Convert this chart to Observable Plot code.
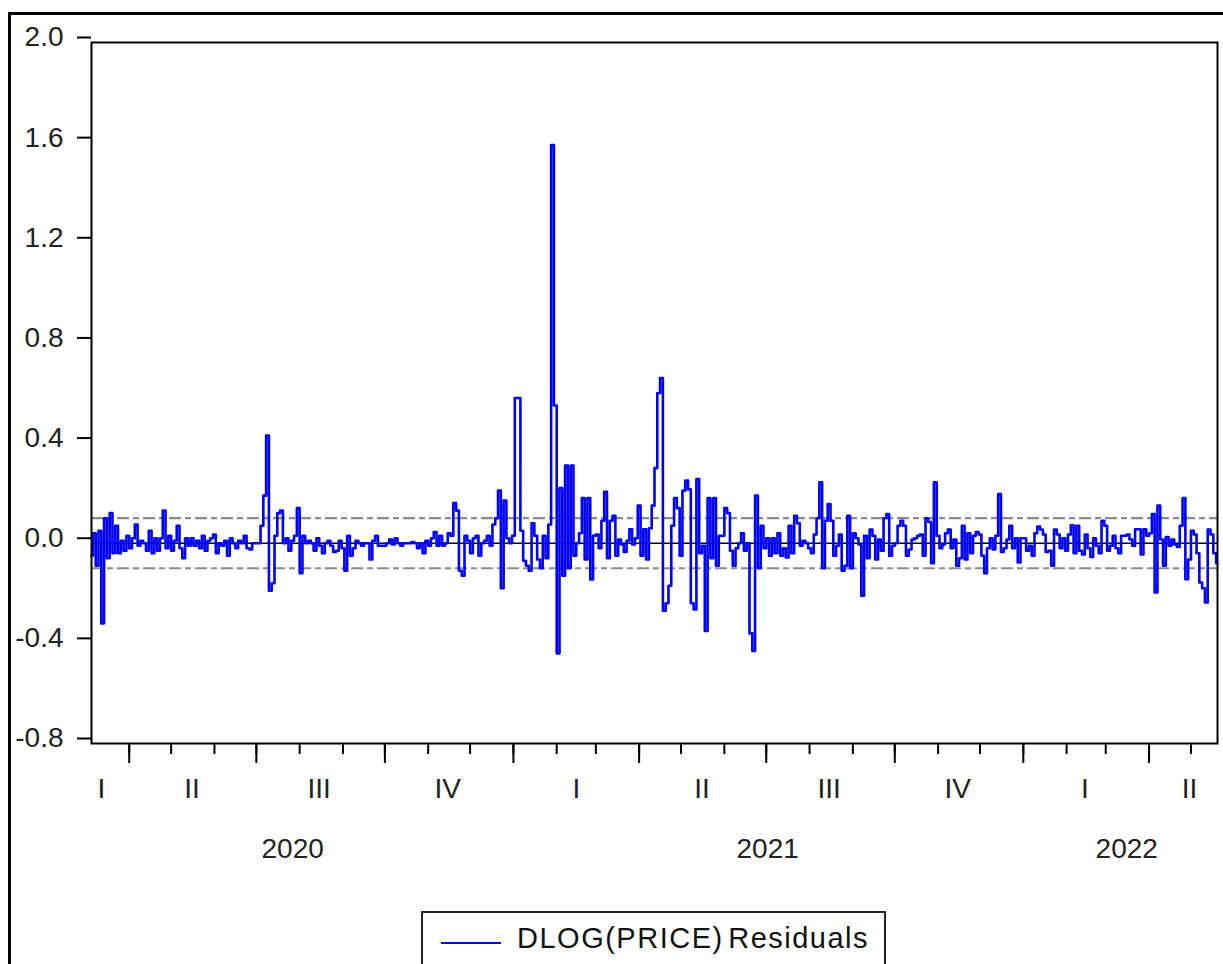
<!DOCTYPE html>
<html>
<head>
<meta charset="utf-8">
<script src="https://cdn.jsdelivr.net/npm/d3@7"></script>
<script src="https://cdn.jsdelivr.net/npm/@observablehq/plot@0.6"></script>
<style>
  html, body { margin: 0; padding: 0; background: #fff; }
  body { width: 1223px; height: 964px; overflow: hidden; position: relative; font-family: "Liberation Sans", Arial, sans-serif; }
  #frame { position: absolute; left: 8px; top: 12px; width: 1240px; height: 1000px; border: 3px solid #000; box-sizing: border-box; }
  #chart { position: absolute; left: 0; top: 0; }
  #legend { position: absolute; left: 421px; top: 911px; width: 465px; height: 80px; border: 2px solid #222; box-sizing: border-box; background: #fff; }
  #legend .sw { position: absolute; left: 18px; top: 29px; width: 60px; height: 2px; background: #0000ff; }
  #legend .lbl { position: absolute; left: 94px; top: 9px; font-size: 29px; color: #111; white-space: nowrap; letter-spacing: 1.5px; word-spacing: -5px; }
</style>
</head>
<body>
<div id="frame"></div>
<div id="chart"></div>
<div id="legend"><div class="sw"></div><div class="lbl">DLOG(PRICE) Residuals</div></div>
<script>
// ---- data ----
const startDate = "2020-03-05";
const stepDays = 2;
const seriesName = "DLOG(PRICE) Residuals";
const residuals = [
  // Mar 2020 - Jul 2020
  -0.05,0.04,-0.09,0.05,-0.32,0.10,-0.06,0.12,-0.04,0.07,
  -0.04,0.01,-0.03,0.03,-0.02,0.02,0.075,-0.01,0.01,0.0,
  -0.03,0.05,-0.04,0.02,-0.03,0.02,0.13,-0.02,0.03,-0.03,
  0.01,0.07,-0.02,-0.06,0.02,-0.01,0.02,-0.01,0.01,-0.02,
  0.03,-0.03,0.01,0.02,0.035,-0.04,0.0,-0.01,0.01,-0.05,
  0.02,0.0,-0.02,0.01,0.0,0.03,-0.02,-0.025,0.0,0.0,
  0.0,0.07,0.19,0.43,-0.19,-0.16,0.03,0.12,0.13,0.0,
  0.02,-0.03,0.01,0.03,0.14,-0.12,0.03,0.0,0.01,0.0,
  -0.03,0.02,
  // Jul 2020 - Jan 2021
  -0.01,-0.04,0.0,0.01,-0.01,-0.035,-0.03,0.01,-0.02,-0.11,
  0.03,-0.05,-0.02,0.01,0.0,-0.01,0.0,0.0,-0.065,0.01,
  0.03,-0.01,-0.01,-0.01,0.0,0.015,-0.005,0.02,0.0,-0.01,
  0.0,0.0,0.0,0.005,0.0,-0.02,0.0,-0.04,0.01,-0.01,
  0.02,0.045,-0.01,0.03,-0.01,0.0,0.04,0.03,0.16,0.13,
  -0.11,-0.13,0.03,0.01,-0.04,0.02,0.03,-0.05,0.0,0.01,
  0.03,-0.01,0.075,0.1,0.21,-0.18,0.17,0.02,0.0,0.03,
  0.58,0.58,0.05,-0.07,-0.09,-0.11,0.08,0.03,-0.065,-0.1,
  // Jan 2021 - Jul 2021
  0.03,-0.06,0.075,1.59,0.55,-0.44,0.22,-0.13,0.31,-0.1,
  0.31,-0.05,0.0,0.04,0.18,-0.065,0.18,-0.145,0.03,0.035,
  -0.02,0.09,0.205,-0.06,0.09,0.11,-0.05,0.015,-0.005,-0.035,
  0.01,0.056,-0.005,0.02,0.15,-0.05,0.056,-0.065,0.06,0.15,
  0.3,0.6,0.66,-0.27,-0.24,-0.17,0.07,0.18,0.14,-0.05,
  0.21,0.25,0.215,-0.24,-0.265,0.256,-0.04,-0.01,-0.35,0.18,
  -0.06,0.18,-0.09,0.03,0.03,0.14,0.12,-0.03,-0.09,-0.02,
  0.0,0.04,-0.03,0.0,-0.36,-0.43,0.19,-0.1,0.07,-0.02,
  0.02,-0.05,
  // Jul 2021 - Dec 2021
  0.02,-0.04,0.04,-0.05,-0.02,-0.057,0.07,-0.04,0.11,0.08,
  -0.01,0.01,0.0,-0.02,-0.04,0.035,0.1,0.243,-0.1,0.09,
  0.156,0.09,-0.05,-0.01,0.035,-0.11,-0.09,0.11,-0.1,0.04,
  0.02,-0.005,-0.21,0.03,-0.06,0.055,0.03,-0.065,0.015,-0.03,
  0.1,0.116,-0.05,-0.01,0.0,0.07,0.09,0.07,-0.05,-0.025,
  0.015,0.02,0.03,0.035,-0.05,0.1,0.085,-0.08,0.243,0.03,
  -0.02,-0.005,0.04,0.055,-0.02,0.015,-0.09,-0.06,0.07,-0.065,
  0.04,-0.04,0.03,0.045,0.035,-0.05,-0.12,-0.02,0.02,-0.025,
  0.03,0.196,
  // Dec 2021 - May 2022
  -0.035,-0.02,0.015,0.07,-0.02,0.02,-0.077,0.02,0.02,-0.03,
  -0.01,-0.05,0.04,0.067,0.055,0.035,-0.035,-0.03,-0.09,0.055,
  0.035,-0.02,0.02,-0.03,0.035,0.072,-0.04,0.07,-0.03,-0.045,
  0.035,-0.02,-0.055,0.02,-0.01,-0.04,0.09,0.07,-0.03,-0.01,
  0.03,-0.02,-0.04,0.03,0.03,0.035,0.015,-0.01,0.056,0.056,
  -0.045,0.056,0.03,0.04,0.116,-0.197,0.15,0.015,-0.09,0.025,
  -0.01,0.015,-0.005,-0.015,0.07,0.18,-0.144,-0.065,0.05,0.035,
  -0.04,-0.157,-0.18,-0.237,0.055,0.035,-0.04,-0.08
];
const yTicks = [-0.8, -0.4, 0.0, 0.4, 0.8, 1.2, 1.6, 2.0];
const yDomain = [-0.8, 2.0];
const bandLevels = [-0.1, 0.1];
const quarterStarts = ["2020-04-01","2020-07-01","2020-10-01","2021-01-01","2021-04-01","2021-07-01","2021-10-01","2022-01-01","2022-04-01"];
const quarterLabels = ["I","II","III","IV","I","II","III","IV","I","II"];
const quarterLabelDates = ["2020-03-12","2020-05-16","2020-08-15","2020-11-15","2021-02-15","2021-05-16","2021-08-15","2021-11-15","2022-02-14","2022-04-30"];
const yearLabels = ["2020","2021","2022"];
const yearLabelDates = ["2020-07-27","2021-07-02","2022-03-16"];

// ---- build ----
const parse = d3.utcParse("%Y-%m-%d");
const t0 = parse(startDate);
const data = residuals.map((v, i) => ({date: d3.utcDay.offset(t0, i * stepDays), value: v}));
const xDomain = [t0, d3.utcDay.offset(t0, (residuals.length - 1) * stepDays)];
const monthTicks = d3.utcMonth.range(parse("2020-04-01"), d3.utcDay.offset(xDomain[1], 1));
const qTicks = quarterStarts.map(parse);
const qLab = quarterLabels.map((t, i) => ({date: parse(quarterLabelDates[i]), text: t}));
const yLab = yearLabels.map((t, i) => ({date: parse(yearLabelDates[i]), text: t}));

const H = 905;
const chart = Plot.plot({
  width: 1223,
  height: H,
  marginLeft: 91,
  marginRight: 6,
  marginTop: 42,
  marginBottom: H - 743,
  x: {type: "utc", domain: xDomain, label: null},
  y: {domain: yDomain, label: null},
  style: {fontFamily: "'Liberation Sans', Arial, sans-serif", fontSize: "28px", color: "#222", background: "transparent", overflow: "visible"},
  marks: [
    Plot.ruleY(bandLevels, {stroke: "#8a8a8a", strokeWidth: 2.2, strokeDasharray: "12,4,6,4"}),
    Plot.ruleY([0], {stroke: "#000", strokeWidth: 1.5}),
    Plot.line(data, {x: "date", y: "value", stroke: "#0000ff", strokeWidth: 2.6, curve: "step"}),
    Plot.frame({stroke: "#000", strokeWidth: 2}),
    Plot.axisY({ticks: yTicks, label: null, tickSize: 14, tickPadding: 14, tickFormat: d => d.toFixed(1), stroke: "#000", strokeWidth: 2, fontSize: 28, dy: -5, fill: "#222"}),
    Plot.axisX({ticks: monthTicks, label: null, tickSize: 11, tickFormat: () => "", stroke: "#000", strokeWidth: 2}),
    Plot.axisX({ticks: qTicks, label: null, tickSize: 20, tickFormat: () => "", stroke: "#000", strokeWidth: 2}),
    Plot.text(qLab, {x: "date", text: "text", frameAnchor: "bottom", dy: 46, lineAnchor: "middle", fontSize: 28, fill: "#222"}),
    Plot.text(yLab, {x: "date", text: "text", frameAnchor: "bottom", dy: 106, lineAnchor: "middle", fontSize: 28, fill: "#222"})
  ]
});
document.getElementById("chart").appendChild(chart);
</script>
</body>
</html>
